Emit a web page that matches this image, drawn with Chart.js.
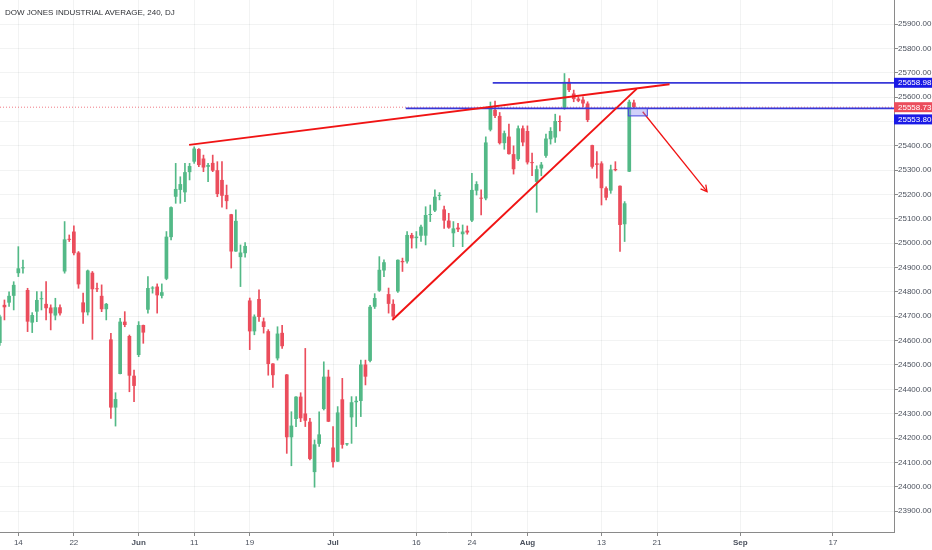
<!DOCTYPE html>
<html>
<head>
<meta charset="utf-8">
<script src="https://cdn.jsdelivr.net/npm/chart.js@4.4.0/dist/chart.umd.min.js"></script>
<style>
  html, body { margin: 0; padding: 0; background: #fff; }
  #wrap { position: relative; width: 932px; height: 550px; }
  #title {
    position: absolute; left: 5px; top: 8px;
    font: 8px "Liberation Sans", Arial, sans-serif; color: #2f3136;
  }
</style>
</head>
<body>
<div id="wrap">
  <canvas id="chart" width="932" height="550"></canvas>
  <div id="title">DOW JONES INDUSTRIAL AVERAGE, 240, DJ</div>
</div>
<script>
// 4h candles, one entry per bar (index = bar number)
const opens = [24590,24747,24756,24784,24877,24897,24808,24674,24719,24770,
  24751,24736,24703,24737,24884,25018,25048,24962,24757,24716,
  24879,24815,24784,24729,24605,24325,24463,24678,24619,24456,
  24541,24664,24727,24814,24822,24784,24854,25025,25191,25219,
  25209,25292,25335,25387,25348,25314,25330,25300,25260,25198,
  25119,24966,24943,24959,24765,24638,24771,24679,24639,24506,
  24527,24632,24461,24203,24278,24370,24301,24267,24060,24176,
  24319,24452,24161,24103,24359,24174,24285,24347,24352,24502,
  24517,24739,24805,24888,24791,24751,24802,24927,24925,25034,
  25021,25031,25031,25116,25134,25194,25139,25093,25041,25064,
  25037,25052,25093,25216,25187,25184,25466,25548,25523,25411,
  25438,25366,25345,25472,25461,25332,25252,25307,25359,25427,
  25434,25502,25556,25663,25615,25594,25590,25574,25403,25328,
  25328,25226,25216,25305,25236,25078,25294,25578];
const highs = [24705,24767,24800,24842,24986,24931,24815,24715,24801,24801,
  24842,24747,24774,24747,25089,25034,25071,24966,24795,24890,
  24884,24836,24829,24753,24630,24386,24692,24719,24623,24479,
  24678,24664,24863,24822,24833,24833,25048,25150,25328,25273,
  25328,25328,25396,25389,25362,25328,25362,25335,25335,25239,
  25119,25137,24993,25003,24775,24706,24809,24693,24645,24506,
  24657,24663,24461,24308,24370,24386,24568,24281,24192,24308,
  24513,24479,24247,24329,24445,24178,24370,24370,24520,24520,
  24745,24793,24945,24932,24816,24768,24932,24939,25048,25041,
  25048,25075,25150,25157,25219,25208,25153,25123,25089,25082,
  25075,25071,25287,25253,25219,25437,25580,25584,25537,25461,
  25489,25400,25482,25482,25482,25370,25318,25332,25448,25475,
  25530,25523,25697,25676,25629,25601,25601,25581,25403,25376,
  25335,25232,25321,25335,25236,25171,25588,25588];
const lows = [24580,24685,24740,24726,24863,24877,24637,24633,24678,24726,
  24685,24644,24685,24705,24877,25007,24952,24815,24671,24705,
  24605,24801,24719,24685,24281,24249,24463,24657,24390,24349,
  24534,24589,24713,24795,24713,24775,24850,25014,25164,25164,
  25171,25260,25328,25314,25294,25253,25294,25191,25148,25141,
  24898,24966,24822,24943,24563,24624,24679,24631,24458,24408,
  24520,24568,24137,24086,24247,24267,24247,24110,23998,24165,
  24315,24267,24080,24103,24158,24170,24178,24247,24288,24418,
  24513,24732,24802,24863,24713,24693,24798,24884,24918,24980,
  24980,25007,24993,25089,25130,25178,25061,25061,24986,25048,
  24986,25037,25089,25198,25116,25178,25461,25516,25407,25386,
  25366,25284,25339,25400,25325,25277,25127,25277,25352,25407,
  25414,25461,25550,25622,25581,25581,25560,25499,25308,25267,
  25157,25178,25205,25297,24966,25007,25294,25556];
const closes = [24699,24737,24784,24829,24897,24900,24678,24705,24767,24772,
  24733,24712,24737,24712,25016,25014,24959,24831,24716,24888,
  24811,24811,24729,24751,24325,24360,24678,24664,24456,24414,
  24664,24633,24816,24816,24786,24799,25027,25148,25223,25243,
  25292,25317,25389,25321,25311,25321,25298,25202,25195,25173,
  24966,25092,24962,24989,24638,24699,24697,24656,24504,24458,
  24629,24577,24203,24251,24370,24281,24271,24114,24174,24215,
  24452,24267,24101,24305,24172,24176,24347,24353,24502,24452,
  24739,24775,24891,24922,24751,24699,24932,24922,25034,25020,
  25027,25068,25116,25120,25191,25198,25093,25064,25061,25057,
  25048,25044,25219,25243,25183,25414,25562,25523,25411,25452,
  25366,25304,25472,25414,25332,25329,25304,25323,25430,25461,
  25502,25498,25663,25629,25592,25585,25574,25506,25314,25322,
  25226,25187,25303,25300,25075,25164,25581,25559];

// date labels on the time axis (bar index -> text)
const tickIdx = [4, 16, 30, 42, 54, 72, 90, 102, 114, 130, 142, 160, 180];
const tickText = ["14", "22", "Jun", "11", "19", "Jul", "16", "24", "Aug", "13", "21", "Sep", "17"];

const lastPrice = 25558.73;
const resistance = 25658.98;
const support = 25553.80;

// drawings in (bar index, price)
const upperTrend = [[40.9, 25404], [144.7, 25653]];
const lowerTrend = [[84.8, 24685], [137.6, 25634]];
const arrowLine = [[138.9, 25540], [152.8, 25212]];
const zoneBox = [[135.8, 25553.8], [139.9, 25523]];
const resistanceFrom = 106.5;
const supportFrom = 87.7;

const xMin = 0.04, xMax = 193.2;
const yMin = 23814, yMax = 25999;

const upColor = "#53b987";
const downColor = "#eb4d5c";
const lineRed = "#f01414";
const lineBlue = "#3838d8";
const tagBlue = "#1a1ae6";
const FONT = "'Liberation Sans', Arial, sans-serif";

Chart.defaults.font.family = FONT;

const candleColors = opens.map((o, i) => (closes[i] >= o ? upColor : downColor));
const bodies = opens.map((o, i) => ({ x: i, y: [o, closes[i]] }));
const wicks = opens.map((o, i) => ({ x: i, y: [lows[i], highs[i]] }));
const toPoints = (seg) => seg.map((p) => ({ x: p[0], y: p[1] }));

function lineSet(points, color, width, extra) {
  return Object.assign({
    type: "line",
    data: points,
    borderColor: color,
    borderWidth: width,
    pointRadius: 0,
    fill: false,
    tension: 0,
    order: 0,
  }, extra || {});
}

// box, arrow head and price tags on the axis
const drawings = {
  id: "drawings",
  afterDatasetsDraw(chart) {
    const { ctx, scales } = chart;
    const x = scales.x, y = scales.y;

    const bx1 = x.getPixelForValue(zoneBox[0][0]);
    const bx2 = x.getPixelForValue(zoneBox[1][0]);
    const by1 = y.getPixelForValue(zoneBox[0][1]);
    const by2 = y.getPixelForValue(zoneBox[1][1]);
    ctx.save();
    ctx.fillStyle = "rgba(140,140,240,0.4)";
    ctx.strokeStyle = "#4545e0";
    ctx.lineWidth = 1;
    ctx.fillRect(bx1, by1, bx2 - bx1, by2 - by1);
    ctx.strokeRect(bx1, by1, bx2 - bx1, by2 - by1);

    // arrow head
    const sx = x.getPixelForValue(arrowLine[0][0]), sy = y.getPixelForValue(arrowLine[0][1]);
    const ex = x.getPixelForValue(arrowLine[1][0]), ey = y.getPixelForValue(arrowLine[1][1]);
    const ang = Math.atan2(ey - sy, ex - sx);
    const len = 7;
    ctx.strokeStyle = lineRed;
    ctx.lineWidth = 1.3;
    ctx.beginPath();
    ctx.moveTo(ex - len * Math.cos(ang - 0.5), ey - len * Math.sin(ang - 0.5));
    ctx.lineTo(ex, ey);
    ctx.lineTo(ex - len * Math.cos(ang + 0.5), ey - len * Math.sin(ang + 0.5));
    ctx.stroke();
    ctx.restore();
  },
  afterDraw(chart) {
    const { ctx, chartArea, scales } = chart;
    const tags = [
      [resistance, tagBlue, 0],
      [lastPrice, downColor, 0],
      [support, tagBlue, 11],
    ];
    ctx.save();
    ctx.font = "8px " + FONT;
    ctx.textBaseline = "middle";
    tags.forEach(([v, color, shift]) => {
      const py = scales.y.getPixelForValue(v) + shift;
      ctx.fillStyle = color;
      ctx.fillRect(chartArea.right, py - 5, chart.width - chartArea.right, 10);
      ctx.fillStyle = "#fff";
      ctx.fillText(v.toFixed(2), chartArea.right + 4, py + 0.5);
    });
    ctx.restore();
  },
};

new Chart(document.getElementById("chart"), {
  type: "bar",
  data: {
    datasets: [
      lineSet(toPoints(upperTrend), lineRed, 2),
      lineSet(toPoints(lowerTrend), lineRed, 2),
      lineSet(toPoints(arrowLine), lineRed, 1.3),
      lineSet([{ x: resistanceFrom, y: resistance }, { x: xMax, y: resistance }], lineBlue, 1.8),
      lineSet([{ x: supportFrom, y: support }, { x: xMax, y: support }], lineBlue, 1.8),
      {
        data: bodies,
        backgroundColor: candleColors,
        borderWidth: 0,
        grouped: false,
        barPercentage: 0.8,
        categoryPercentage: 1,
        minBarLength: 1,
        order: 1,
      },
      {
        data: wicks,
        backgroundColor: candleColors,
        borderWidth: 0,
        grouped: false,
        barThickness: 1,
        order: 2,
      },
      lineSet([{ x: xMin, y: lastPrice }, { x: xMax, y: lastPrice }], "rgba(235,77,92,0.75)", 1, {
        borderDash: [1, 2],
        order: 3,
      }),
    ],
  },
  options: {
    responsive: false,
    animation: false,
    layout: { padding: 0 },
    plugins: {
      legend: { display: false },
      tooltip: { enabled: false },
    },
    scales: {
      x: {
        type: "linear",
        min: xMin,
        max: xMax,
        offset: false,
        afterBuildTicks: (axis) => {
          axis.ticks = tickIdx.map((v) => ({ value: v }));
        },
        afterFit: (axis) => {
          axis.height = 18;
          axis.paddingLeft = 0;
          axis.paddingRight = 0;
        },
        grid: { offset: false, color: "rgba(42,46,57,0.06)", tickColor: "#8a8a8a", tickLength: 4 },
        border: { color: "#8a8a8a" },
        ticks: {
          autoSkip: false,
          maxRotation: 0,
          padding: 2,
          color: "#4c525e",
          font: (c) => ({
            size: 8,
            family: FONT,
            weight: isNaN(Number(tickText[c.index])) ? "bold" : "normal",
          }),
          callback: (v, i) => tickText[i],
        },
      },
      y: {
        type: "linear",
        position: "right",
        min: yMin,
        max: yMax,
        afterFit: (axis) => {
          axis.width = 38;
          axis.paddingTop = 0;
          axis.paddingBottom = 0;
        },
        grid: { color: "rgba(42,46,57,0.06)", tickColor: "#8a8a8a", tickLength: 4 },
        border: { color: "#8a8a8a" },
        ticks: {
          stepSize: 100,
          includeBounds: false,
          padding: 0,
          color: "#4c525e",
          font: { size: 8, family: FONT },
          callback: (v) => v.toFixed(2),
        },
      },
    },
  },
  plugins: [drawings],
});
</script>
</body>
</html>
